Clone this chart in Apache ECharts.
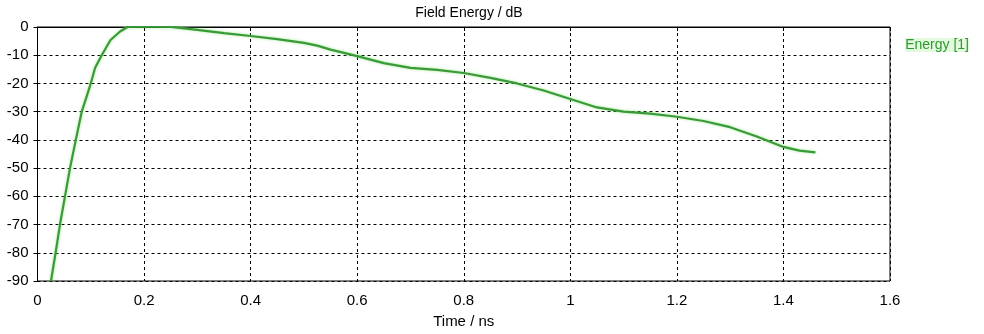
<!DOCTYPE html>
<html>
<head>
<meta charset="utf-8">
<title>Field Energy / dB</title>
<script src="https://cdn.jsdelivr.net/npm/echarts@6/dist/echarts.min.js"></script>
<style>
  html, body { margin: 0; padding: 0; background: #ffffff; }
  #chart { width: 984px; height: 334px; }
</style>
</head>
<body>
<div id="chart"></div>
<script>
// Time samples (ns) and field energy (dB)
const timeNs = [
  0.0253, 0.034, 0.0422, 0.0516, 0.061, 0.0719, 0.083, 0.0925, 0.1, 0.108, 0.1205,
  0.137, 0.155, 0.169, 0.2, 0.25, 0.275, 0.3, 0.35, 0.4, 0.45,
  0.5, 0.525, 0.55, 0.6, 0.65, 0.7, 0.75, 0.8, 0.85, 0.9, 0.95,
  1.0, 1.05, 1.1, 1.15, 1.2, 1.25, 1.3, 1.35, 1.4, 1.43, 1.46
];
const energyDb = [
  -90, -80, -70, -60, -50, -40, -30, -24.5, -20, -14.5, -10,
  -4.6, -1.6, 0, 0.2, 0, -0.5, -1.0, -2.2, -3.2, -4.3,
  -5.6, -6.6, -8, -10.3, -12.8, -14.5, -15.2, -16.3, -18, -20, -22.5,
  -25.5, -28.5, -30, -30.7, -31.8, -33.3, -35.5, -38.8, -42.5, -43.8, -44.4
];
const seriesName = 'Energy [1]';
const chartTitle = 'Field Energy / dB';
const xTitle = 'Time / ns';

const points = timeNs.map((t, i) => [t, energyDb[i]]);

const font = '"Liberation Sans", Arial, sans-serif';
const chart = echarts.init(document.getElementById('chart'), null, { renderer: 'canvas' });

chart.setOption({
  animation: false,
  backgroundColor: '#ffffff',
  title: {
    text: chartTitle,
    left: 464,
    textAlign: 'center',
    top: 1,
    textStyle: { fontFamily: font, fontSize: 14, fontWeight: 'normal', color: '#000' }
  },
  legend: {
    right: 10,
    top: 33,
    icon: 'none',
    itemWidth: 0,
    itemGap: 0,
    textStyle: { fontFamily: font, fontSize: 14, color: '#2f9a2f',
      backgroundColor: 'rgba(200,245,190,0.5)' },
    data: [seriesName]
  },
  grid: {
    left: 37.5, right: 94, top: 27, bottom: 51,
    show: true, borderColor: '#000', borderWidth: 1, backgroundColor: '#fff'
  },
  xAxis: {
    type: 'value',
    min: 0, max: 1.6, interval: 0.2,
    name: xTitle,
    nameLocation: 'middle',
    nameGap: 33,
    nameTextStyle: { fontFamily: font, fontSize: 15, color: '#000' },
    axisLine: { lineStyle: { color: '#000', width: 1 } },
    axisTick: { show: true, length: 4, lineStyle: { color: '#000' } },
    axisLabel: { fontFamily: font, fontSize: 15, color: '#000', margin: 12 },
    splitLine: { show: true, lineStyle: { color: '#000', type: [3, 3], width: 1 } }
  },
  yAxis: {
    type: 'value',
    min: -90, max: 0, interval: 10,
    axisLine: { show: true, lineStyle: { color: '#000', width: 1 } },
    axisTick: { show: true, length: 4, lineStyle: { color: '#000' } },
    axisLabel: { fontFamily: font, fontSize: 15, color: '#000', margin: 9 },
    splitLine: { show: true, lineStyle: { color: '#000', type: [3, 3], width: 1 } }
  },
  series: [{
    name: seriesName,
    type: 'line',
    data: points,
    showSymbol: false,
    smooth: false,
    clip: true,
    lineStyle: {
      color: '#3a9a3a', width: 2.2,
      shadowColor: 'rgba(120,225,100,0.7)', shadowBlur: 3
    },
    itemStyle: { color: '#3a9a3a' }
  }]
});
</script>
</body>
</html>
